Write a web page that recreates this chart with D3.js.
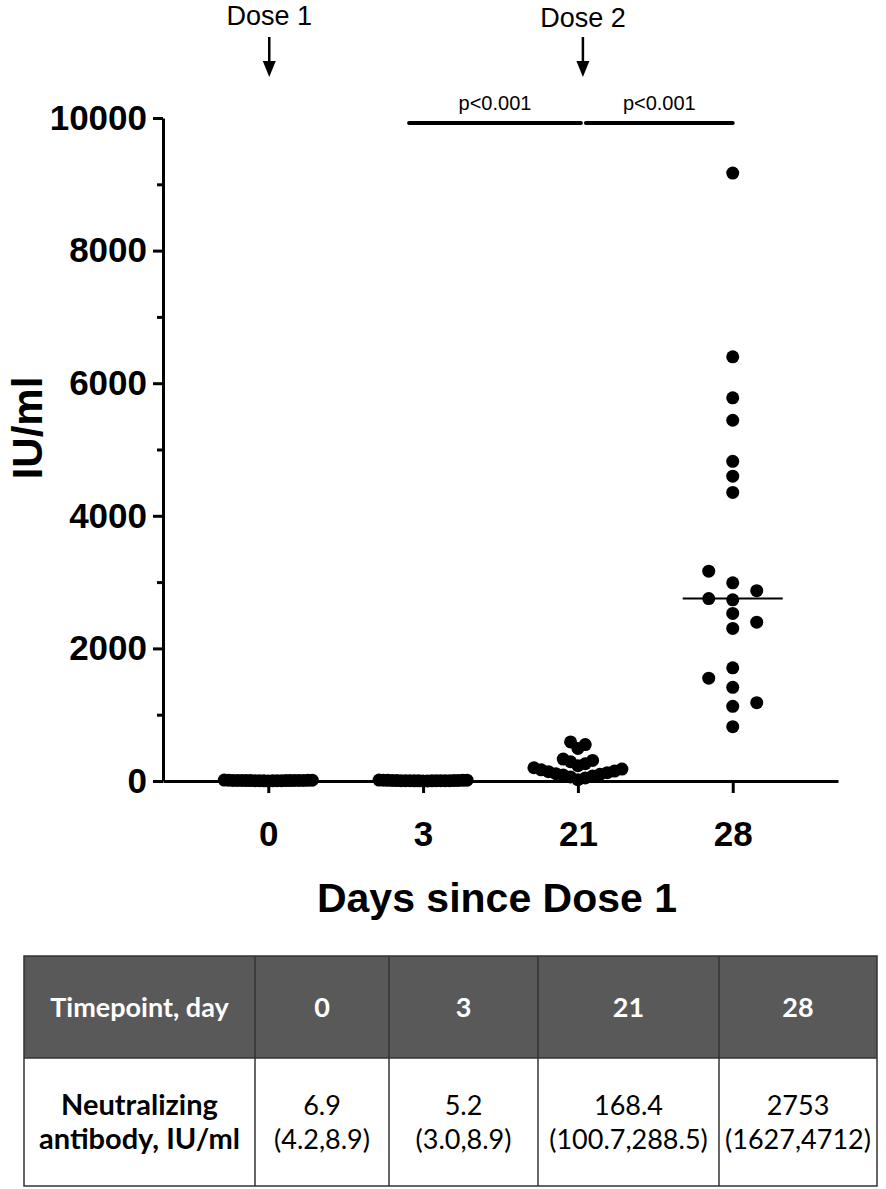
<!DOCTYPE html>
<html>
<head>
<meta charset="utf-8">
<script src="https://cdn.jsdelivr.net/npm/d3@7"></script>
<style>
  body { margin: 0; background: #fff; }
  svg { display: block; }
</style>
</head>
<body>
<div class="plot"></div>
<script>
// values (IU/ml)
const days = ["0", "3", "21", "28"];
const day0 = [1.5, 2.5, 3.1, 3.8, 4.2, 4.9, 5.5, 6.0, 6.4, 6.7, 6.9, 7.2, 7.6, 8.0, 8.4, 8.9, 9.4, 10.2, 11.0, 12.5, 14.0];
const day3 = [1.0, 1.8, 2.2, 2.6, 3.0, 3.4, 3.9, 4.3, 4.7, 5.0, 5.2, 5.6, 6.1, 6.8, 7.5, 8.9, 9.5, 10.3, 11.2, 12.0, 13.5];
const day21 = [20, 45, 60, 75, 90, 100, 110, 125, 140, 150, 168, 180, 200, 230, 260, 290, 310, 330, 490, 550, 590];
const day28 = [819, 1126, 1182, 1413, 1551, 1707, 2301, 2395, 2527, 2733, 2752, 2871, 2989, 3165, 4353, 4597, 4822, 5441, 5779, 6398, 9170];
const medianDay28 = 2753;
const yTicks = [0, 2000, 4000, 6000, 8000, 10000];
const yMinor = [1000, 3000, 5000, 7000, 9000];
const doses = [{label: "Dose 1", day: "0"}, {label: "Dose 2", day: "21"}];
const pLabels = ["p<0.001", "p<0.001"];

const tableHeader = ["Timepoint, day", "0", "3", "21", "28"];
const rowLabel = ["Neutralizing", "antibody, IU/ml"];
const medians = ["6.9", "5.2", "168.4", "2753"];
const ranges = ["(4.2,8.9)", "(3.0,8.9)", "(100.7,288.5)", "(1627,4712)"];

const width = 886;
const height = 1189;
const font = "'Liberation Sans', Arial, sans-serif";
const tfont = "Lato, 'Open Sans', sans-serif";

const svg = d3.select('.plot')
    .append('svg')
    .attr('width', width)
    .attr('height', height);

const x = d3.scalePoint().domain(days).range([163, 838]).padding(0.68);
const y = d3.scaleLinear().domain([0, 10000]).range([781, 118]);

// simple column swarm like GraphPad
const r = 6.5;
function swarm(values, day) {
    const sorted = values.slice().sort((a, b) => a - b);
    const placed = [];
    sorted.forEach(v => {
        const py = y(v);
        const free = k => !placed.some(p => p.k === k && Math.abs(p.py - py) < 2 * r);
        let k = 0;
        if (!free(0)) {
            for (let j = 1; j < 50; j++) {
                const nR = placed.filter(p => p.k > 0).length;
                const nL = placed.filter(p => p.k < 0).length;
                const order = nL < nR ? [-j, j] : [j, -j];
                const hit = order.find(free);
                if (hit !== undefined) { k = hit; break; }
            }
        }
        placed.push({v, py, k});
    });
    const kmax = d3.max(placed, p => Math.abs(p.k));
    const step = kmax ? Math.min(24, 44 / kmax) : 0;
    return placed.map(p => ({cx: x(day) + p.k * step, cy: p.py}));
}

const points = [].concat(
    swarm(day0, "0"), swarm(day3, "3"), swarm(day21, "21"), swarm(day28, "28"));

// axes
svg.append('g')
    .attr('transform', `translate(${x.range()[0]},0)`)
    .call(d3.axisLeft(y).tickValues(yTicks).tickFormat(d3.format('d'))
        .tickSize(10).tickSizeOuter(0).tickPadding(6));
svg.append('g')
    .attr('transform', `translate(${x.range()[0]},0)`)
    .call(d3.axisLeft(y).tickValues(yMinor).tickSize(6).tickSizeOuter(0).tickFormat(''))
    .call(g => g.select('.domain').remove());
svg.append('g')
    .attr('transform', `translate(0,${y(0)})`)
    .call(d3.axisBottom(x).tickSize(12).tickSizeOuter(0).tickPadding(28));

svg.selectAll('.domain, .tick line')
    .attr('stroke', '#000')
    .attr('stroke-width', 3);
svg.selectAll('.tick text')
    .attr('font-family', font)
    .attr('font-weight', 'bold')
    .attr('font-size', 35)
    .attr('fill', '#000');

svg.append('text')
    .attr('transform', 'translate(42,428) rotate(-90)')
    .attr('text-anchor', 'middle')
    .attr('font-family', font)
    .attr('font-weight', 'bold')
    .attr('font-size', 42)
    .text('IU/ml');

svg.append('text')
    .attr('x', 497)
    .attr('y', 912)
    .attr('text-anchor', 'middle')
    .attr('font-family', font)
    .attr('font-weight', 'bold')
    .attr('font-size', 41)
    .text('Days since Dose 1');

// dots
svg.selectAll('circle')
    .data(points)
    .enter()
    .append('circle')
    .attr('cx', d => d.cx)
    .attr('cy', d => d.cy)
    .attr('r', r)
    .attr('fill', '#000');

// median line for day 28
svg.append('line')
    .attr('x1', x("28") - 50)
    .attr('x2', x("28") + 50)
    .attr('y1', y(medianDay28))
    .attr('y2', y(medianDay28))
    .attr('stroke', '#000')
    .attr('stroke-width', 2);

// dose arrows
const dose = svg.selectAll('.dose')
    .data(doses)
    .enter()
    .append('g')
    .attr('class', 'dose')
    .attr('transform', (d, i) => `translate(${x(d.day) + (i ? 5 : 1)},0)`);
dose.append('text')
    .attr('y', (d, i) => i ? 27 : 25)
    .attr('text-anchor', 'middle')
    .attr('font-family', font)
    .attr('font-size', 27)
    .text(d => d.label);
dose.append('line')
    .attr('x1', 0).attr('x2', 0)
    .attr('y1', 37).attr('y2', 66)
    .attr('stroke', '#000')
    .attr('stroke-width', 2.5);
dose.append('path')
    .attr('d', 'M-6.5,61 L6.5,61 L0,77 Z')
    .attr('fill', '#000');

// significance bars
const bars = [
    {x1: x("3") - 14, x2: x("21") + 3},
    {x1: x("21") + 8, x2: x("28")}
];
svg.selectAll('.sig')
    .data(bars)
    .enter()
    .append('line')
    .attr('class', 'sig')
    .attr('x1', d => d.x1)
    .attr('x2', d => d.x2)
    .attr('y1', 123)
    .attr('y2', 123)
    .attr('stroke', '#000')
    .attr('stroke-width', 4)
    .attr('stroke-linecap', 'round');
svg.selectAll('.plab')
    .data(bars)
    .enter()
    .append('text')
    .attr('class', 'plab')
    .attr('x', d => (d.x1 + d.x2) / 2)
    .attr('y', 110)
    .attr('text-anchor', 'middle')
    .attr('font-family', font)
    .attr('font-size', 20)
    .text((d, i) => pLabels[i]);

// table
const colEdges = [24, 255, 389, 538, 719, 877];
const rowEdges = [956, 1058, 1186];
const table = svg.append('g');
table.append('rect')
    .attr('x', colEdges[0])
    .attr('y', rowEdges[0])
    .attr('width', colEdges[5] - colEdges[0])
    .attr('height', rowEdges[1] - rowEdges[0])
    .attr('fill', '#595959');
table.append('rect')
    .attr('x', colEdges[0])
    .attr('y', rowEdges[0])
    .attr('width', colEdges[5] - colEdges[0])
    .attr('height', rowEdges[2] - rowEdges[0])
    .attr('fill', 'none')
    .attr('stroke', '#333')
    .attr('stroke-width', 1.5);
table.selectAll('.vline')
    .data(colEdges.slice(1, 5))
    .enter()
    .append('line')
    .attr('x1', d => d).attr('x2', d => d)
    .attr('y1', rowEdges[0]).attr('y2', rowEdges[2])
    .attr('stroke', '#333')
    .attr('stroke-width', 1.5);
table.append('line')
    .attr('x1', colEdges[0]).attr('x2', colEdges[5])
    .attr('y1', rowEdges[1]).attr('y2', rowEdges[1])
    .attr('stroke', '#333')
    .attr('stroke-width', 1.5);

const colMid = i => (colEdges[i] + colEdges[i + 1]) / 2;
table.selectAll('.head')
    .data(tableHeader)
    .enter()
    .append('text')
    .attr('x', (d, i) => colMid(i))
    .attr('y', 1017)
    .attr('text-anchor', 'middle')
    .attr('font-family', tfont)
    .attr('font-weight', 'bold')
    .attr('font-size', 27)
    .attr('fill', '#fff')
    .text(d => d);
table.selectAll('.rlab')
    .data(rowLabel)
    .enter()
    .append('text')
    .attr('x', colMid(0))
    .attr('y', (d, i) => 1115 + i * 34)
    .attr('text-anchor', 'middle')
    .attr('font-family', tfont)
    .attr('font-weight', 'bold')
    .attr('font-size', 29)
    .text(d => d);
table.selectAll('.med')
    .data(medians)
    .enter()
    .append('text')
    .attr('x', (d, i) => colMid(i + 1))
    .attr('y', 1115)
    .attr('text-anchor', 'middle')
    .attr('font-family', tfont)
    .attr('font-size', 27)
    .text(d => d);
table.selectAll('.rng')
    .data(ranges)
    .enter()
    .append('text')
    .attr('x', (d, i) => colMid(i + 1))
    .attr('y', 1149)
    .attr('text-anchor', 'middle')
    .attr('font-family', tfont)
    .attr('font-size', 27)
    .text(d => d);
</script>
</body>
</html>
